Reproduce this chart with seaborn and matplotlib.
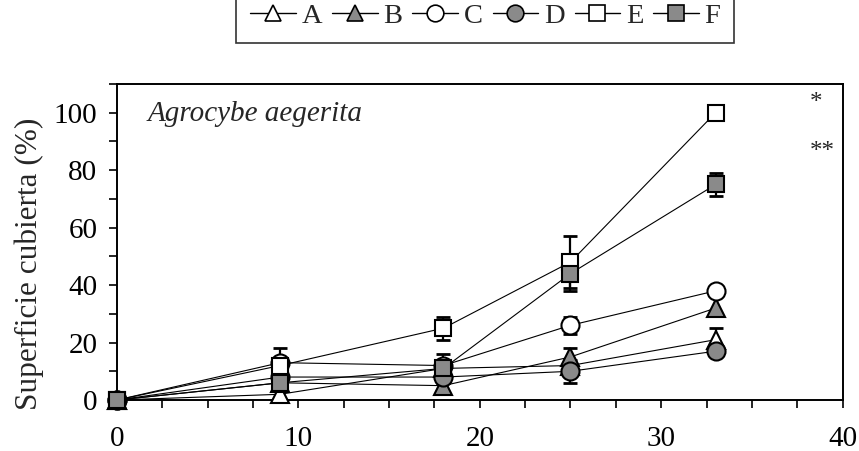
import numpy as np
import pandas as pd
import matplotlib
matplotlib.use("Agg")
import matplotlib.pyplot as plt
from matplotlib.ticker import MultipleLocator
import seaborn as sns

sns.set_style("ticks")
plt.rcParams['font.family'] = ['Liberation Serif', 'DejaVu Serif']

# dias / superficie cubierta (%)
days = [0, 9, 18, 25, 33]
series_names = ["A", "B", "C", "D", "E", "F"]
A = [0, 2, 11, 12, 21]
B = [0, 6, 5, 15, 32]
C = [0, 13, 12, 26, 38]
D = [0, 8, 8, 10, 17]
E = [0, 12, 25, 48, 100]
F = [0, 6, 11, 44, 75]
A_err = [0, 0, 0, 0, 4]
B_err = [0, 0, 0, 3, 0]
C_err = [0, 0, 0, 3, 0]
D_err = [0, 0, 0, 4, 0]
E_err = [0, 6, 4, 9, 0]
F_err = [0, 0, 5, 6, 4]

values = dict(A=A, B=B, C=C, D=D, E=E, F=F)
errors = dict(A=A_err, B=B_err, C=C_err, D=D_err, E=E_err, F=F_err)

rows = []
for s in series_names:
    for d, v, e in zip(days, values[s], errors[s]):
        rows.append(dict(serie=s, dia=d, sup=v, err=e))
df = pd.DataFrame(rows)

grey = "#8a8a8a"
styles = {
    "A": dict(marker="^", mfc="white", ms=13),
    "B": dict(marker="^", mfc=grey, ms=13),
    "C": dict(marker="o", mfc="white", ms=13),
    "D": dict(marker="o", mfc=grey, ms=13),
    "E": dict(marker="s", mfc="white", ms=12),
    "F": dict(marker="s", mfc=grey, ms=12),
}

fig = plt.figure(figsize=(8.59, 4.51), dpi=100)
ax = fig.add_axes([0.136, 0.113, 0.845, 0.701])

handles = []
for s in series_names:
    sub = df[df.serie == s]
    st = styles[s]
    nz = sub[sub.err > 0]
    if len(nz):
        ax.errorbar(nz.dia, nz.sup, yerr=nz.err, fmt="none", ecolor="black",
                    elinewidth=1.6, capsize=5, capthick=2, zorder=2)
    sns.lineplot(data=sub, x="dia", y="sup", ax=ax, color="black", lw=0.8,
                 marker=st["marker"], markersize=st["ms"], markerfacecolor=st["mfc"],
                 markeredgecolor="black", markeredgewidth=1.5, clip_on=False,
                 zorder=3, legend=False)
    h, = ax.plot([], [], color="black", lw=1.0, marker=st["marker"],
                 markersize=st["ms"] - 1, markerfacecolor=st["mfc"],
                 markeredgecolor="black", markeredgewidth=1.2, label=s)
    handles.append(h)

ax.set_xlim(0, 40)
ax.set_ylim(0, 110)
ax.xaxis.set_major_locator(MultipleLocator(10))
ax.xaxis.set_minor_locator(MultipleLocator(2.5))
ax.yaxis.set_major_locator(MultipleLocator(20))
ax.yaxis.set_minor_locator(MultipleLocator(10))
ax.tick_params(which="both", direction="out", length=6, width=1.2, colors="black",
               labelsize=21, top=False, right=False)
ax.tick_params(axis="x", pad=13)
ax.tick_params(axis="y", pad=8)
for sp in ax.spines.values():
    sp.set_linewidth(1.4)
    sp.set_color("black")
ax.set_xlabel("")
ax.set_ylabel("Superficie cubierta (%)", fontsize=22.5)
ax.yaxis.set_label_coords(-0.100, 0.43)

ax.text(0.042, 0.905, "Agrocybe aegerita", transform=ax.transAxes, fontsize=21,
        style="italic", ha="left", va="center")
ax.text(0.955, 0.94, "*", transform=ax.transAxes, fontsize=18, ha="left", va="center")
ax.text(0.954, 0.785, "**", transform=ax.transAxes, fontsize=18, ha="left", va="center")

leg = fig.legend(handles=handles, loc="upper center", bbox_to_anchor=(0.565, 1.025),
                 ncol=6, frameon=True, fontsize=20.5, handlelength=1.6,
                 handletextpad=0.2, columnspacing=0.35, borderpad=0.5,
                 borderaxespad=0, fancybox=False, edgecolor="black")
leg.get_frame().set_linewidth(1.2)

fig.savefig("out.png", dpi=100)
